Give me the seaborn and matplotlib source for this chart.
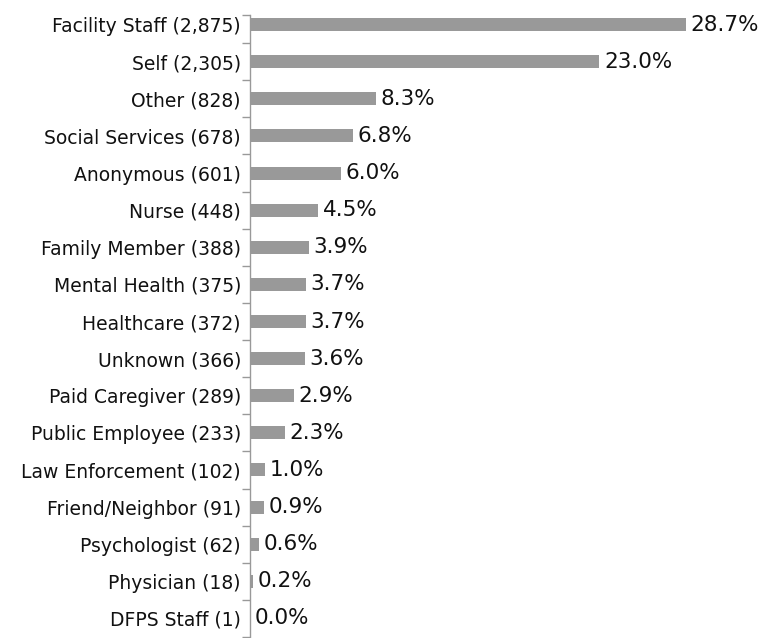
import matplotlib
matplotlib.use("Agg")
import matplotlib.pyplot as plt
import pandas as pd
import seaborn as sns
from matplotlib.ticker import FixedLocator

sources = [
    "Facility Staff", "Self", "Other", "Social Services", "Anonymous", "Nurse",
    "Family Member", "Mental Health", "Healthcare", "Unknown", "Paid Caregiver",
    "Public Employee", "Law Enforcement", "Friend/Neighbor", "Psychologist",
    "Physician", "DFPS Staff",
]
counts = [2875, 2305, 828, 678, 601, 448, 388, 375, 372, 366, 289, 233, 102, 91, 62, 18, 1]
percents = [28.7, 23.0, 8.3, 6.8, 6.0, 4.5, 3.9, 3.7, 3.7, 3.6, 2.9, 2.3, 1.0, 0.9, 0.6, 0.2, 0.0]

labels = [f"{s} ({c:,})" for s, c in zip(sources, counts)]
df = pd.DataFrame({"label": labels, "pct": percents})

sns.set_style("white")
plt.rcParams["font.family"] = ["DejaVu Sans"]

fig = plt.figure(figsize=(7.61, 6.38), dpi=100)
# plot area spans pixel rows 6..637 (top slightly cropped like the original)
ax = fig.add_axes([250 / 761, 1 / 638, 1 - 250 / 761, 631 / 638])

sns.barplot(data=df, y="label", x="pct", orient="h", color="#999999",
            saturation=1, width=0.35, linewidth=0, ax=ax)

for i, p in enumerate(percents):
    ax.text(p + 0.3, i, f"{p:.1f}%", va="center", ha="left", fontsize=15.5, color="#111111")

n = len(labels)
ax.set_xlim(0, 511 / 15.19)
ax.set_ylim(n - 0.5, -0.5)
ax.set_xlabel(None)
ax.set_ylabel(None)
ax.set_xticks([])
for side in ["top", "right", "bottom"]:
    ax.spines[side].set_visible(False)
top_end = -0.5 + 9 / 37.1
ax.spines["left"].set_color("#999999")
ax.spines["left"].set_linewidth(1)
ax.spines["left"].set_bounds(top_end, n - 0.5)
ax.tick_params(axis="y", which="major", left=False, length=0, labelsize=13.5,
               labelcolor="#111111", pad=6.5)
ax.yaxis.set_minor_locator(FixedLocator([top_end] + [i + 0.5 for i in range(n)]))
ax.tick_params(axis="y", which="minor", left=True, length=6, color="#999999", width=1)

fig.savefig("out.png", dpi=100)
